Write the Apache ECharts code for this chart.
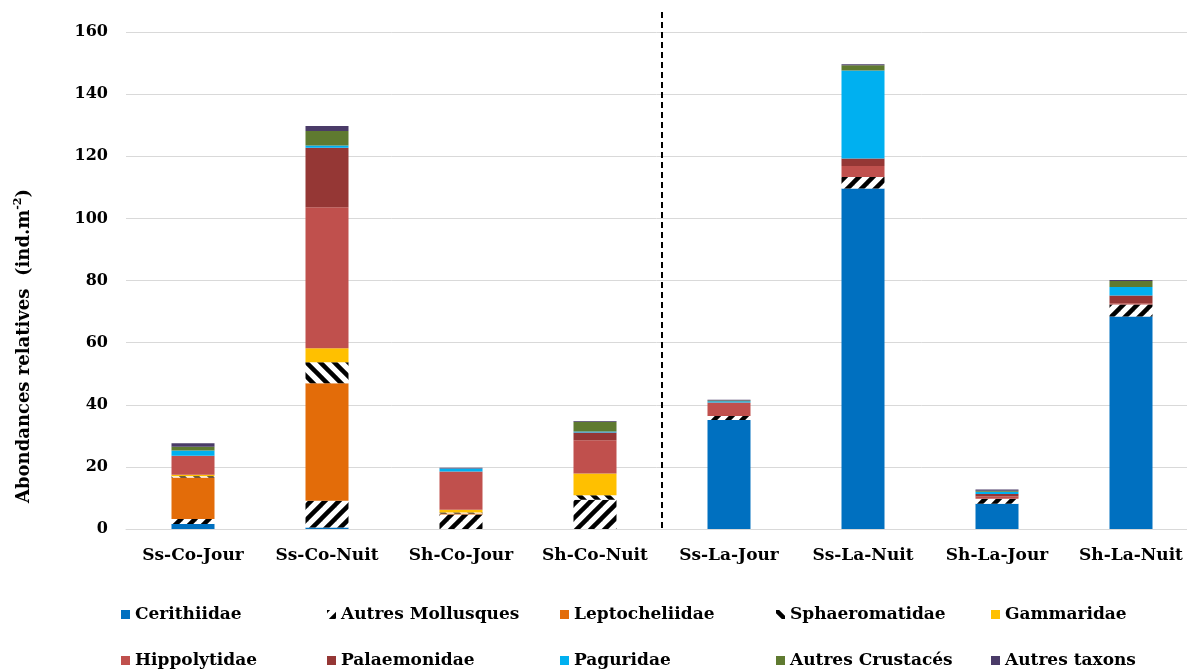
<!DOCTYPE html>
<html><head><meta charset="utf-8">
<script src="https://cdn.jsdelivr.net/npm/echarts@6/dist/echarts.min.js"></script>
<style>html,body{margin:0;padding:0;background:#fff}#c{width:1187px;height:672px}</style>
</head><body><div id="c"></div>
<script>
const categories = ['Ss-Co-Jour','Ss-Co-Nuit','Sh-Co-Jour','Sh-Co-Nuit','Ss-La-Jour','Ss-La-Nuit','Sh-La-Jour','Sh-La-Nuit'];
const cerithiidae      = [1.6, 0.5, 0,    0,    35.1, 109.6, 8.1, 68.4];
const autresMollusques = [1.6, 8.6, 4.7,  9.4,  1.3,  3.7,   1.6, 3.9];
const leptocheliidae   = [13.4, 37.8, 0.3, 0,   0,    0,     0,   0];
const sphaeromatidae   = [0.4, 6.8, 0.3,  1.5,  0,    0,     0,   0];
const gammaridae       = [0.5, 4.5, 0.9,  7.0,  0,    0,     0,   0];
const hippolytidae     = [6.1, 45.4, 12.3, 10.7, 4.3, 3.6,   0.8, 0.4];
const palaemonidae     = [0,   19.1, 0,   2.5,  0,    2.4,   0.8, 2.5];
const paguridae        = [1.7, 0.8, 1.0,  0.3,  0.4,  28.3,  0.7, 2.7];
const autresCrustaces  = [1.2, 4.6, 0,    3.1,  0.3,  1.7,   0.3, 1.9];
const autresTaxons     = [1.1, 1.6, 0.2,  0.3,  0.2,  0.3,   0.4, 0.4];
const yTicks = [0, 20, 40, 60, 80, 100, 120, 140, 160];

function hatch(forward) {
  const s = 14, c = document.createElement('canvas');
  c.width = s; c.height = s;
  const g = c.getContext('2d');
  g.fillStyle = '#fff'; g.fillRect(0, 0, s, s);
  g.strokeStyle = '#000'; g.lineWidth = 4.5;
  const segs = forward
    ? [[-s, s, s, -s], [0, s, s, 0], [0, 2 * s, 2 * s, 0]]
    : [[0, 0, s, s], [-s, 0, s, 2 * s], [0, -s, 2 * s, s]];
  segs.forEach(p => { g.beginPath(); g.moveTo(p[0], p[1]); g.lineTo(p[2], p[3]); g.stroke(); });
  return { image: c, repeat: 'repeat' };
}

const FONT = 'DejaVu Serif';
const seriesDefs = [
  ['Cerithiidae', cerithiidae, '#0070C0'],
  ['Autres Mollusques', autresMollusques, hatch(true)],
  ['Leptocheliidae', leptocheliidae, '#E36C09'],
  ['Sphaeromatidae', sphaeromatidae, hatch(false)],
  ['Gammaridae', gammaridae, '#FFC000'],
  ['Hippolytidae', hippolytidae, '#C0504D'],
  ['Palaemonidae', palaemonidae, '#953735'],
  ['Paguridae', paguridae, '#00B0F0'],
  ['Autres Crustacés', autresCrustaces, '#5F7A30'],
  ['Autres taxons', autresTaxons, '#4A3B68']
];

const colLeft = [116, 322, 555, 771, 986];
const rowTop = [601, 647];
const legends = seriesDefs.map((d, i) => ({
  data: [d[0]],
  left: colLeft[i % 5],
  top: rowTop[Math.floor(i / 5)],
  itemWidth: 9, itemHeight: 9, itemGap: 5,
  icon: 'rect',
  textStyle: { fontFamily: FONT, fontWeight: 'bold', fontSize: 17, color: '#000' }
}));

const chart = echarts.init(document.getElementById('c'));
chart.setOption({
  animation: false,
  backgroundColor: '#fff',
  grid: [
    { left: 126, right: 0, top: 32, bottom: 143, containLabel: false },
    { left: 193, right: 56, top: 32, bottom: 143, containLabel: false }
  ],
  legend: legends,
  xAxis: [
    {
      type: 'category', gridIndex: 0, data: categories,
      axisLine: { lineStyle: { color: '#d9d9d9', width: 1 } },
      axisTick: { show: false }, axisLabel: { show: false }
    },
    {
      type: 'category', gridIndex: 1, data: categories, boundaryGap: false,
      axisLine: { show: false }, axisTick: { show: false }, splitLine: { show: false },
      axisLabel: { interval: 0, margin: 18, fontFamily: FONT, fontWeight: 'bold', fontSize: 17, color: '#000' }
    }
  ],
  yAxis: [
    {
      type: 'value', gridIndex: 0, min: yTicks[0], max: yTicks[yTicks.length - 1], interval: 20,
      axisLine: { show: false }, axisTick: { show: false },
      splitLine: { lineStyle: { color: '#d9d9d9', width: 1 } },
      axisLabel: { margin: 18, fontFamily: FONT, fontWeight: 'bold', fontSize: 16, color: '#000' }
    },
    {
      type: 'value', gridIndex: 1, min: yTicks[0], max: yTicks[yTicks.length - 1], interval: 20,
      axisLine: { show: false }, axisTick: { show: false },
      splitLine: { show: false }, axisLabel: { show: false }
    }
  ],
  series: seriesDefs.map(d => ({
    name: d[0], type: 'bar', stack: 'total', barWidth: 43,
    xAxisIndex: 1, yAxisIndex: 1,
    data: d[1], itemStyle: { color: d[2] }
  }))
});

const x1 = chart.convertToPixel({ xAxisIndex: 1 }, categories[3]);
const x2 = chart.convertToPixel({ xAxisIndex: 1 }, categories[4]);
const y0 = chart.convertToPixel({ yAxisIndex: 1 }, 0);
chart.setOption({
  graphic: [
    {
      type: 'line', silent: true,
      shape: { x1: (x1 + x2) / 2, y1: 12, x2: (x1 + x2) / 2, y2: y0 },
      style: { stroke: '#000', lineWidth: 2, lineDash: [6, 4] }
    },
    {
      type: 'text', silent: true, x: 24, y: 346, rotation: Math.PI / 2,
      style: {
        text: '{a|Abondances relatives  (ind.m}{s|-2}{a|)}',
        align: 'center', verticalAlign: 'middle',
        rich: {
          a: { fontFamily: FONT, fontWeight: 'bold', fontSize: 18, fill: '#000', lineHeight: 22 },
          s: { fontFamily: FONT, fontWeight: 'bold', fontSize: 11, fill: '#000', verticalAlign: 'top', lineHeight: 22 }
        }
      }
    }
  ]
});
</script></body></html>
